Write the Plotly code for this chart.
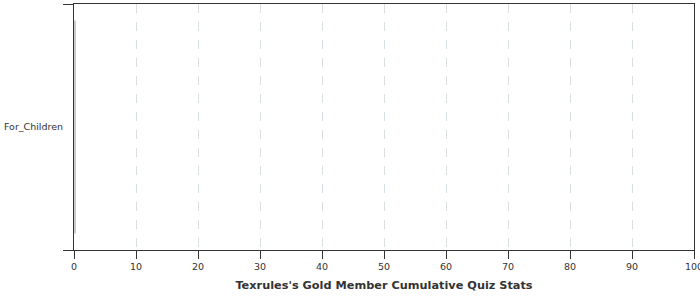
import plotly.graph_objects as go

categories = ["For_Children"]
values = [0.3]
x_ticks = [0, 10, 20, 30, 40, 50, 60, 70, 80, 90, 100]

fig = go.Figure()
fig.add_trace(go.Bar(
    x=values, y=categories, orientation="h",
    marker=dict(color="#cccccc", line=dict(width=0)),
    width=0.866,
))

fig.update_layout(
    width=700, height=300,
    margin=dict(l=74, r=6, t=4, b=50, autoexpand=False),
    paper_bgcolor="white", plot_bgcolor="white",
    font=dict(family="DejaVu Sans", size=9.5, color="#333333"),
    showlegend=False,
    xaxis=dict(
        range=[0, 100], tickvals=x_ticks, ticktext=[str(v) for v in x_ticks],
        showline=True, linecolor="#333333", linewidth=1, mirror=True,
        ticks="outside", ticklen=8, tickcolor="#333333",
        showgrid=True, gridcolor="#d8dfe3", griddash="dash", gridwidth=1,
        zeroline=False, ticklabeloverflow="allow", automargin=False,
        tickfont=dict(size=9.5, color="#333333"),
        title=dict(text="<b>Texrules's Gold Member Cumulative Quiz Stats</b>",
                   font=dict(size=11.3, color="#333333"), standoff=9),
    ),
    yaxis=dict(
        type="category",
        showline=True, linecolor="#333333", linewidth=1, mirror=True,
        ticks="outside", ticklen=10, tickcolor="#333333", tickson="boundaries",
        showgrid=False, zeroline=False, ticklabelstandoff=8, automargin=False,
        tickfont=dict(size=9.5, color="#333333"),
    ),
)

fig.write_html("out.html")
